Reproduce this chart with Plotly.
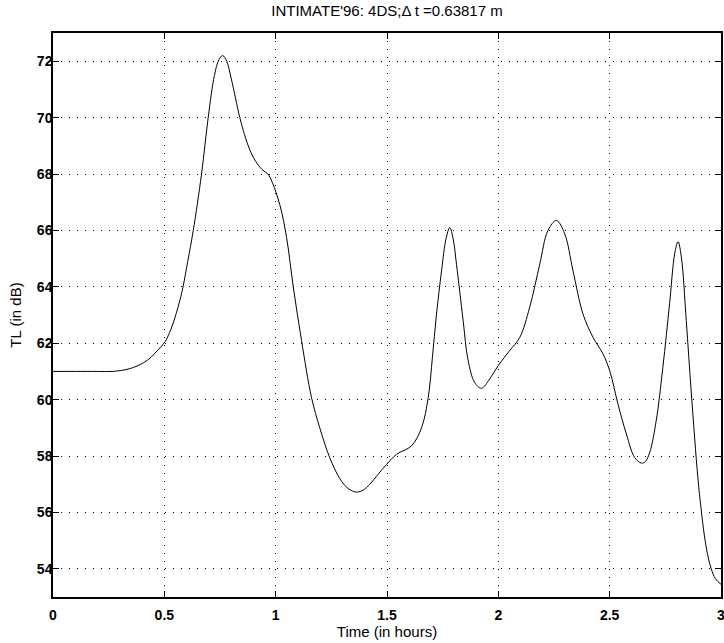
import plotly.graph_objects as go

# Time (hours) and transmission loss (dB)
time_hours = [0.0, 0.1, 0.2, 0.27, 0.346, 0.405, 0.44, 0.47, 0.503, 0.53,
              0.555, 0.58, 0.605, 0.63, 0.667, 0.697, 0.725, 0.745, 0.762, 0.78,
              0.80, 0.839, 0.86, 0.884, 0.91, 0.94, 0.965, 0.985, 1.019, 1.049,
              1.079, 1.116, 1.161, 1.198, 1.243, 1.288, 1.325, 1.363, 1.395, 1.423,
              1.46, 1.498, 1.543, 1.61, 1.655, 1.685, 1.704, 1.722, 1.745, 1.765,
              1.782, 1.797, 1.812, 1.842, 1.864, 1.894, 1.924, 1.961, 1.999, 2.051,
              2.096, 2.141, 2.186, 2.223, 2.261, 2.298, 2.335, 2.38, 2.425, 2.47,
              2.5, 2.537, 2.575, 2.612, 2.642, 2.66, 2.68, 2.709, 2.739, 2.769,
              2.792, 2.807, 2.822, 2.844, 2.867, 2.896, 2.911, 2.925, 2.94, 2.956,
              2.975, 3.0]
tl_db = [61.0, 61.0, 61.0, 61.0, 61.1, 61.3, 61.5, 61.75, 62.05, 62.5,
         63.1, 63.85, 64.9, 66.0, 68.0, 70.0, 71.5, 72.05, 72.2, 72.0,
         71.4, 70.0, 69.4, 68.85, 68.45, 68.15, 68.0, 67.7, 66.9, 65.75,
         64.0, 62.1, 60.07, 59.0, 57.94, 57.2, 56.85, 56.72, 56.8, 57.0,
         57.35, 57.7, 58.06, 58.36, 59.0, 60.07, 61.5, 63.0, 64.57, 65.7,
         66.1, 65.7, 64.8, 62.8, 61.4, 60.6, 60.4, 60.73, 61.2, 61.74,
         62.2, 63.28, 64.8, 66.0, 66.35, 65.88, 64.58, 63.04, 62.21, 61.62,
         61.03, 59.85, 58.78, 57.95, 57.75, 57.8, 58.13, 59.25, 61.15, 63.4,
         65.17, 65.6, 65.05, 62.8, 60.2, 57.24, 56.1, 55.2, 54.5, 54.0,
         53.65, 53.45]

x_ticks = [0, 0.5, 1, 1.5, 2, 2.5, 3]
x_tick_labels = ['0', '0.5', '1', '1.5', '2', '2.5', '3']
y_ticks = [54, 56, 58, 60, 62, 64, 66, 68, 70, 72]

title_text = "INTIMATE'96: 4DS;\u0394 t =0.63817 m"

font_family = "Liberation Sans, Arial, sans-serif"
title_font = dict(size=15, color='black', family=font_family)
tick_font = dict(size=14, color='black', family=font_family, weight='bold')

fig = go.Figure()
fig.add_trace(go.Scatter(x=time_hours, y=tl_db, mode='lines',
                         line=dict(color='black', width=1, shape='spline', smoothing=1.0),
                         showlegend=False))

# MATLAB-like axes: box, inward ticks, sparse dotted grid
axis_style = dict(showline=True, linecolor='black', linewidth=1.5, mirror='ticks',
                  ticks='inside', ticklen=6, tickwidth=1, tickcolor='black',
                  showgrid=True, gridcolor='black', gridwidth=1, griddash='1px,7px',
                  zeroline=False, automargin=False, tickfont=tick_font,
                  ticklabeloverflow='allow')

fig.update_xaxes(range=[0, 3], tickvals=x_ticks, ticktext=x_tick_labels,
                 ticklabelstandoff=4,
                 title=dict(text='Time (in hours)', font=title_font, standoff=2),
                 **axis_style)
fig.update_yaxes(range=[53, 73], tickvals=y_ticks,
                 ticklabelstandoff=-4,
                 title=dict(text='TL (in dB)', font=title_font, standoff=12),
                 **axis_style)

fig.update_layout(width=724, height=643,
                  margin=dict(l=53, r=3, t=33, b=46),
                  plot_bgcolor='white', paper_bgcolor='white',
                  title=dict(text=title_text, xref='paper', x=0.5, xanchor='center',
                             yref='container', y=0.983, yanchor='middle', font=title_font),
                  font=dict(family=font_family, color='black'))

# drop the page's default body margin so the figure sits at the window corner
fig.write_html("out.html", config={'displayModeBar': False},
               post_script="document.body.style.margin = '0px';")
